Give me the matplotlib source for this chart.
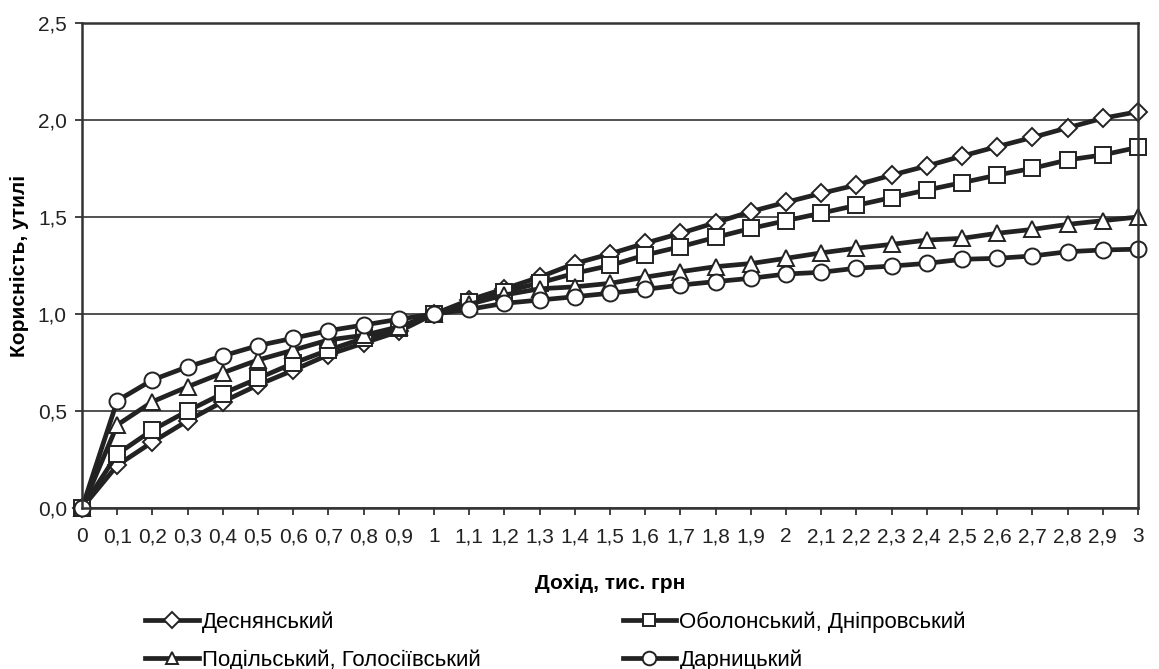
import numpy as np
import matplotlib
matplotlib.use("Agg")
import matplotlib.pyplot as plt
from matplotlib.ticker import FuncFormatter

plt.rcParams["font.family"] = ["Liberation Sans Narrow", "Liberation Sans", "DejaVu Sans"]

# Income, thousand UAH
income = [round(0.1 * i, 1) for i in range(31)]

# Utility values per district group
desnianskyi = [0.0, 0.22, 0.34, 0.45, 0.548, 0.634, 0.71, 0.79, 0.85, 0.91, 1.0,
               1.072, 1.13, 1.19, 1.26, 1.31, 1.365, 1.416, 1.471, 1.528, 1.576,
               1.622, 1.665, 1.716, 1.763, 1.814, 1.863, 1.91, 1.96, 2.009, 2.043]
obolonskyi = [0.0, 0.278, 0.402, 0.50, 0.59, 0.668, 0.746, 0.814, 0.875, 0.926, 1.0,
              1.06, 1.115, 1.16, 1.21, 1.25, 1.304, 1.347, 1.395, 1.441, 1.481,
              1.52, 1.56, 1.60, 1.639, 1.677, 1.716, 1.751, 1.794, 1.82, 1.859]
podilskyi = [0.0, 0.428, 0.548, 0.625, 0.697, 0.763, 0.814, 0.866, 0.89, 0.934, 1.0,
             1.05, 1.098, 1.13, 1.14, 1.158, 1.19, 1.218, 1.244, 1.26, 1.287,
             1.315, 1.339, 1.359, 1.381, 1.39, 1.416, 1.436, 1.462, 1.481, 1.50]
darnytskyi = [0.0, 0.553, 0.66, 0.728, 0.784, 0.837, 0.875, 0.914, 0.943, 0.973, 1.0,
              1.024, 1.055, 1.072, 1.089, 1.107, 1.127, 1.149, 1.167, 1.184, 1.206,
              1.215, 1.236, 1.247, 1.261, 1.282, 1.287, 1.299, 1.321, 1.33, 1.334]

labels = ["Деснянський", "Оболонський, Дніпровський",
          "Подільський, Голосіївський", "Дарницький"]
series = [desnianskyi, obolonskyi, podilskyi, darnytskyi]
markers = ["D", "s", "^", "o"]
msizes = [9.5, 11, 11, 11.5]

fig = plt.figure(figsize=(11.59, 6.69), dpi=100)
ax = fig.add_axes([0.0708, 0.2407, 0.9111, 0.7249])

handles = []
for y, lab, m, ms in zip(series, labels, markers, msizes):
    h, = ax.plot(income, y, color="#222222", linewidth=3.4, marker=m,
                 markersize=ms, markerfacecolor="white",
                 markeredgecolor="#222222", markeredgewidth=1.4,
                 label=lab, clip_on=False)
    handles.append(h)

ax.set_xlim(0, 3)
ax.set_ylim(0, 2.5)
ax.set_xticks(income)
ax.set_yticks(np.arange(0, 2.51, 0.5))
ax.xaxis.set_major_formatter(FuncFormatter(
    lambda v, p: ("%g" % round(v, 1)).replace(".", ",")))
ax.yaxis.set_major_formatter(FuncFormatter(
    lambda v, p: ("%.1f" % v).replace(".", ",")))
ax.tick_params(axis="both", direction="out", length=5, width=1.2,
               labelsize=15, colors="#222222")
ax.tick_params(axis="x", pad=9)
ax.tick_params(axis="y", pad=6)
ax.grid(axis="y", color="#333333", linewidth=1.2)
ax.set_axisbelow(True)
for s in ax.spines.values():
    s.set_linewidth(1.8)
    s.set_color("#333333")

ax.set_xlabel("Дохід, тис. грн", fontsize=15, fontweight="bold", labelpad=20)
ax.set_ylabel("Корисність, утилі", fontsize=15, fontweight="bold", labelpad=6)

# legend: row 1 = Деснянський / Оболонський; row 2 = Подільський / Дарницький
order = [0, 2, 1, 3]
fig.legend([handles[i] for i in order], [labels[i] for i in order],
           ncol=2, loc="lower left", bbox_to_anchor=(0.108, -0.033),
           frameon=False, fontsize=16, handlelength=2.4, handletextpad=0.15,
           columnspacing=6.4, labelspacing=0.75, markerscale=0.85)

fig.savefig("out.png", dpi=100, facecolor="white")
